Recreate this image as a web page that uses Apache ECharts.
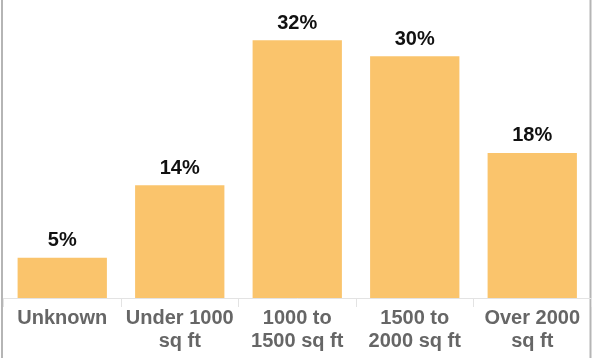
<!DOCTYPE html>
<html>
<head>
<meta charset="utf-8">
<script src="https://cdn.jsdelivr.net/npm/echarts@6/dist/echarts.min.js"></script>
<style>
  html, body { margin: 0; padding: 0; background: #fff; }
  #chart { width: 593px; height: 358px; }
</style>
</head>
<body>
<div id="chart"></div>
<script>
// Share of homes by floor area
const categories = ['Unknown', 'Under 1000\nsq ft', '1000 to\n1500 sq ft', '1500 to\n2000 sq ft', 'Over 2000\nsq ft'];
const shares = [5, 14, 32, 30, 18];

const chart = echarts.init(document.getElementById('chart'), null, { renderer: 'canvas' });
chart.setOption({
  animation: false,
  grid: { left: 3.5, right: 2, top: 16, bottom: 60 },
  xAxis: {
    type: 'category',
    data: categories,
    axisLine: { lineStyle: { color: '#e3e3e3', width: 1 } },
    axisTick: { show: true, length: 9, lineStyle: { color: '#e3e3e3' } },
    axisLabel: {
      color: '#666666',
      fontFamily: 'Liberation Sans, Arial, sans-serif',
      fontWeight: 'bold',
      fontSize: 20,
      lineHeight: 23,
      margin: 9,
      interval: 0
    }
  },
  yAxis: {
    type: 'value',
    min: 0,
    max: 35,
    show: false,
    splitLine: { show: false }
  },
  series: [{
    type: 'bar',
    data: shares,
    barCategoryGap: '24%',
    itemStyle: { color: '#FAC46C' },
    label: {
      show: true,
      position: 'top',
      distance: 7,
      formatter: p => p.value + '%',
      color: '#111111',
      fontFamily: 'Liberation Sans, Arial, sans-serif',
      fontWeight: 'bold',
      fontSize: 20
    }
  }],
  graphic: [
    { type: 'rect', shape: { x: 1, y: 0, width: 2, height: 358 }, style: { fill: '#b5b5b5' } },
    { type: 'rect', shape: { x: 589.5, y: 0, width: 2, height: 358 }, style: { fill: '#b5b5b5' } }
  ]
});
</script>
</body>
</html>
